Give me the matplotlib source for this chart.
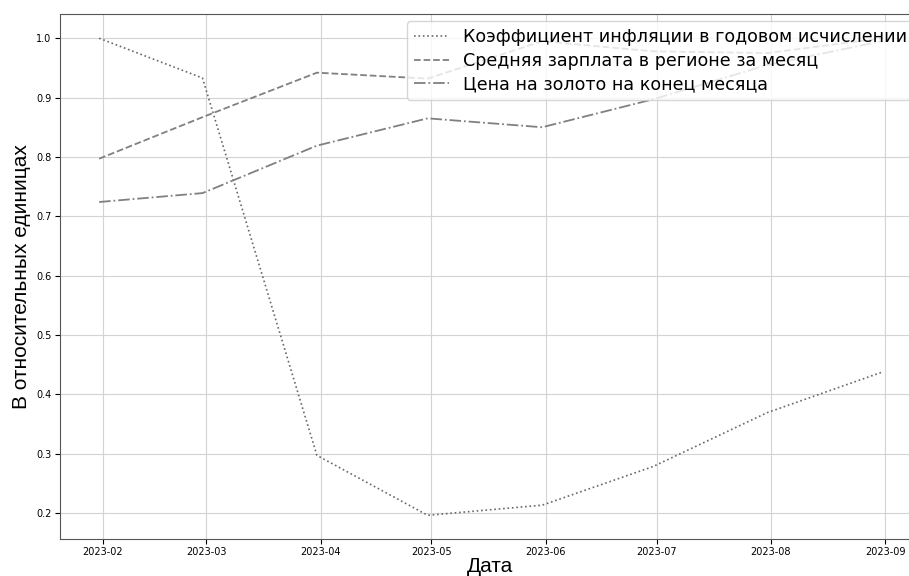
import pandas as pd
import matplotlib
matplotlib.use("Agg")
import matplotlib.pyplot as plt

# данные по месяцам (конец месяца)
dates = pd.date_range("2023-01-31", periods=8, freq="ME")
inflation = [1.0, 0.933, 0.297, 0.196, 0.213, 0.278, 0.369, 0.437]
salary = [0.797, 0.867, 0.942, 0.932, 0.995, 0.978, 0.975, 1.0]
gold = [0.724, 0.739, 0.819, 0.865, 0.850, 0.897, 0.955, 0.995]

labels = ["Коэффициент инфляции в годовом исчислении",
          "Средняя зарплата в регионе за месяц",
          "Цена на золото на конец месяца"]

fig = plt.figure(figsize=(9.09, 5.76), dpi=100)
ax = fig.add_axes([0.066, 0.064, 0.947, 0.911])

ax.plot(dates, inflation, ":", color="dimgray", linewidth=1.2, label=labels[0])
ax.plot(dates, salary, "--", color="gray", linewidth=1.3, label=labels[1])
ax.plot(dates, gold, "-.", color="gray", linewidth=1.3, label=labels[2])

ax.grid(True, color="lightgray")
ax.tick_params(labelsize=7, pad=2.5)
for s in ax.spines.values():
    s.set_color("#555555")
ax.set_xlabel("Дата", fontsize=15, family="Liberation Sans", labelpad=0)
ax.set_ylabel("В относительных единицах", fontsize=15, family="Liberation Sans")
ax.legend(loc="upper right", fontsize=12.6, handlelength=2.0,
          labelspacing=0.3, borderaxespad=0.4)

fig.savefig("out.png", dpi=100)
